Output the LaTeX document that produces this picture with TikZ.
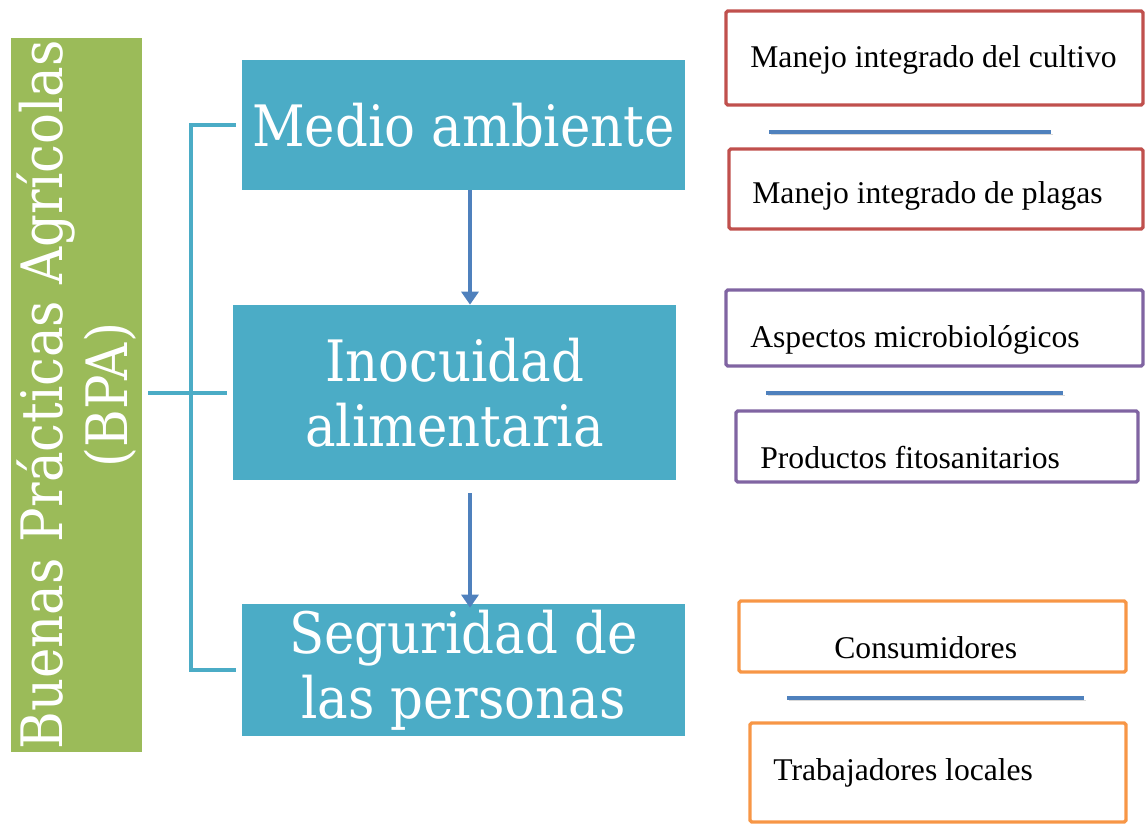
\documentclass[tikz,border=0pt]{standalone}
\usepackage{fontspec}
\newfontfamily\timesfont{Liberation Serif}
\IfFontExistsTF{DejaVu Serif Condensed}
	{\newfontfamily\cajafont{DejaVu Serif Condensed}\newcommand{\tamcaja}{\fontsize{32.5}{37}\selectfont}}
	{\newfontfamily\cajafont{DejaVu Serif}\newcommand{\tamcaja}{\fontsize{29.5}{37}\selectfont}}
\usetikzlibrary{arrows.meta,calc}
\definecolor{verdeBPA}{HTML}{9BBB59}
\definecolor{azulcaja}{HTML}{4BACC6}
\definecolor{azullinea}{HTML}{4F81BD}
\definecolor{rojo}{HTML}{C0504D}
\definecolor{morado}{HTML}{8064A2}
\definecolor{naranja}{HTML}{F79646}

\begin{document}
\begin{tikzpicture}[x=0.02cm,y=-0.02cm,
	caja/.style={fill=azulcaja, text=white, font=\cajafont\tamcaja, align=center, inner sep=0pt},
	marco/.style={draw=#1, line width=1.9pt, rounded corners=1pt},
	texto/.style={font=\timesfont\fontsize{18}{20}\selectfont, anchor=base west, inner sep=0pt},
	llave/.style={draw=azulcaja, line width=2.8pt},
	flecha/.style={draw=azullinea, line width=2.3pt, -{Triangle[length=0.26cm,width=0.34cm]}},
	separador/.style={draw=azullinea, line width=2.3pt, preaction={draw=black!15, transform canvas={shift={(1pt,-1.6pt)}}}}
	]
	\useasboundingbox (0,0) rectangle (1146,825);
	% bloque verde
	\node[caja, fill=verdeBPA, rotate=90, minimum width=14.28cm, minimum height=2.62cm] (bpa) at (76.5,395)
		{Buenas Prácticas Agrícolas\\(BPA)};
	% cajas azules
	\node[caja, minimum width=8.86cm, minimum height=2.6cm] (medio) at (463.5,125) {Medio ambiente};
	\node[caja, minimum width=8.86cm, minimum height=3.5cm] (inocuidad) at (454.5,392.5) {Inocuidad\\alimentaria};
	\node[caja, minimum width=8.86cm, minimum height=2.64cm] (seguridad) at (463.5,670) {Seguridad de\\las personas};
	% llave
	\coordinate (lomo) at (191,393);
	\draw[llave] ([xshift=-0.12cm]medio.west) -| (lomo) |- ([xshift=-0.12cm]seguridad.west);
	\draw[llave] ([xshift=0.12cm]bpa.south |- lomo) -- ([xshift=-0.12cm]inocuidad.west |- lomo);
	% flechas
	\coordinate (eje) at (470,0);
	\draw[flecha] (medio.south -| eje) -- (inocuidad.north -| eje);
	\draw[flecha] ($(inocuidad.south -| eje)+(0,13)$) -- ($(seguridad.north -| eje)+(0,4)$);
	% recuadros de la derecha
	\foreach \nombre/\col/\xa/\ya/\xb/\yb/\xt/\yt/\txt in {
		cultivo/rojo/726/11/1143/105/750/67/Manejo integrado del cultivo,
		plagas/rojo/729/149/1143/229/752/203/Manejo integrado de plagas,
		aspectos/morado/726/290/1143/366/750/347/Aspectos microbiológicos,
		productos/morado/736/411/1138/482/760/468/Productos fitosanitarios,
		consumidores/naranja/739/601/1126/672/834/658/Consumidores,
		trabajadores/naranja/750/723/1126/822/773/780/Trabajadores locales}{
		\draw[marco=\col] (\xa,\ya) rectangle (\xb,\yb);
		\node[texto] (\nombre) at (\xt,\yt) {\txt};
	}
	% separadores
	\foreach \i/\xa/\xb/\y in {1/769/1051/132, 2/766/1063/393, 3/787/1084/698}{
		\coordinate (s\i a) at (\xa,\y);
		\coordinate (s\i b) at (\xb,\y);
		\draw[separador] (s\i a) -- (s\i b);
	}
\end{tikzpicture}
\end{document}
